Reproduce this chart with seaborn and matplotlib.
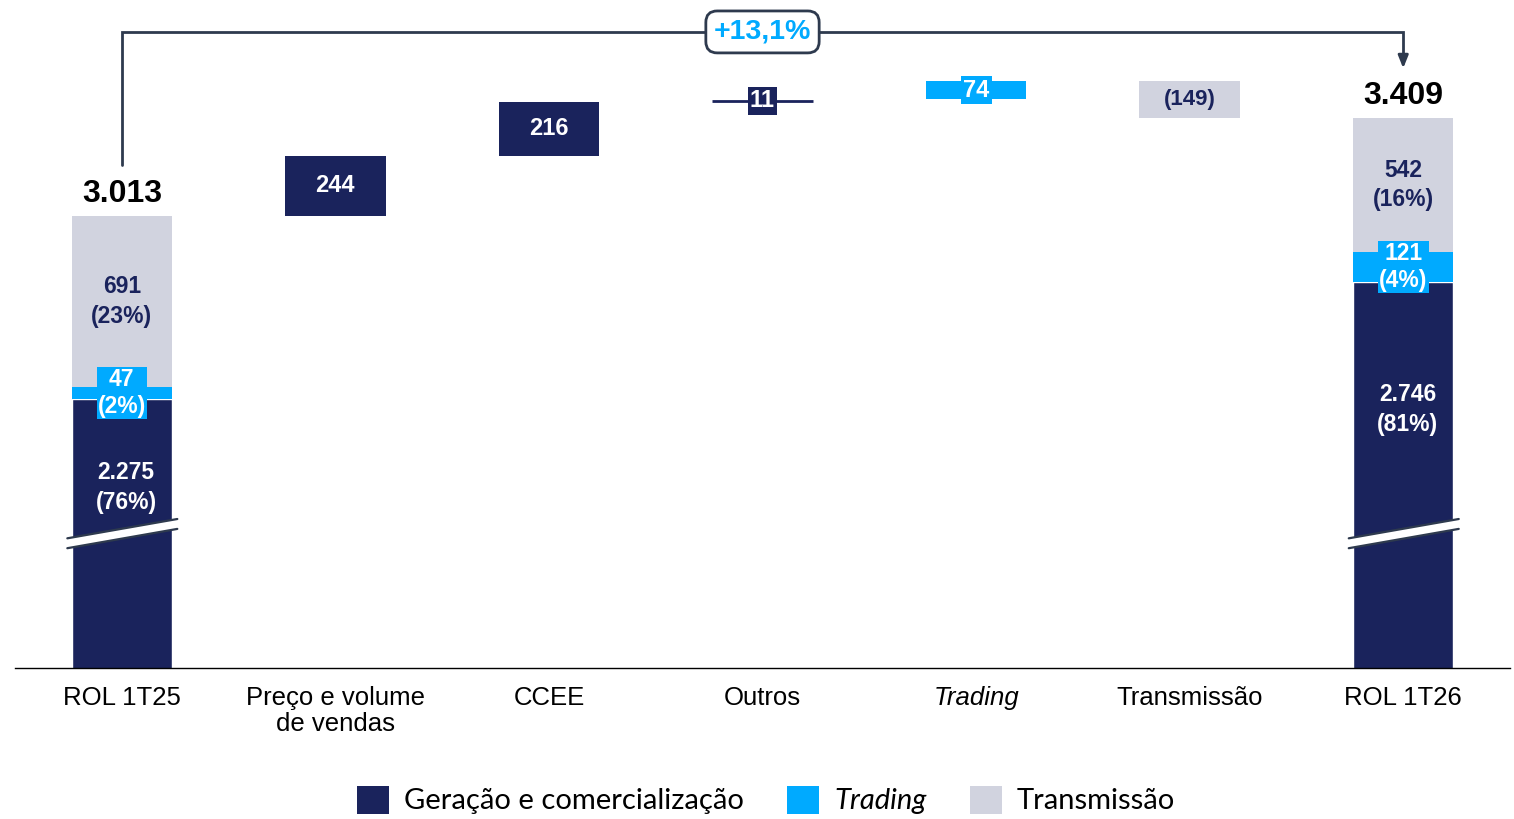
import numpy as np
import pandas as pd
import seaborn as sns
import matplotlib.pyplot as plt
from matplotlib.patches import Patch, Polygon

# data
categories = ['ROL 1T25', 'Preço e volume\nde vendas', 'CCEE', 'Outros', 'Trading', 'Transmissão', 'ROL 1T26']
start_parts = [2275, 47, 691]     # geração, trading, transmissão
end_parts = [2746, 121, 542]
start_pct = ['76%', '2%', '23%']
end_pct = ['81%', '4%', '16%']
deltas = [244, 216, 11, 74, -149]
delta_type = ['ger', 'ger', 'ger', 'trd', 'trn']
start_total = 3013
end_total = 3409
growth = '+13,1%'
legend_labels = ['Geração e comercialização', 'Trading', 'Transmissão']

NAVY = '#1A235C'
CYAN = '#00AAFF'
GRAY = '#D1D3DF'
LINE = '#2E3A4E'
colors = {'ger': NAVY, 'trd': CYAN, 'trn': GRAY}

sns.set_style('white')
plt.rcParams['font.family'] = ['Liberation Sans', 'DejaVu Sans']

fig = plt.figure(figsize=(15.14, 8.19), dpi=100)
ax = fig.add_axes([15 / 1514, 151 / 819, 1495 / 1514, 668 / 819])

ymin = 1187
ymax = 3886
W = 0.47

def fmt(v):
    return f'{v:,}'.replace(',', '.')

# base segments of the total bars (seaborn)
base = pd.DataFrame({'cat': [categories[0], categories[-1]],
                     'val': [start_parts[0], end_parts[0]]})
sns.barplot(data=base, x='cat', y='val', order=categories, color=NAVY,
            width=W, saturation=1, ax=ax)

# stacked upper segments of totals
for xi, parts in [(0, start_parts), (6, end_parts)]:
    b = parts[0]
    ax.bar(xi, parts[1], bottom=b, width=W, color=CYAN, linewidth=0)
    ax.bar(xi, parts[2], bottom=b + parts[1], width=W, color=GRAY, linewidth=0)

# floating steps
run = start_total
for i, (d, t) in enumerate(zip(deltas, delta_type)):
    xi = i + 1
    lo = run if d > 0 else run + d
    h = abs(d)
    c = colors[t]
    if h < 20:
        ax.plot([xi - W / 2, xi + W / 2], [run + d / 2] * 2, color=c, lw=2, solid_capstyle='butt')
    else:
        ax.bar(xi, h, bottom=lo, width=W, color=c, linewidth=0)
    mid = lo + h / 2
    if t == 'trn':
        ax.text(xi, mid, f'({abs(d)})', ha='center', va='center', fontsize=16,
                fontweight='bold', color=NAVY)
    elif h < 100:
        ax.text(xi, mid, f'{d}', ha='center', va='center', fontsize=17,
                fontweight='bold', color='white',
                bbox=dict(boxstyle='square,pad=0.1', fc=c, ec='none'))
    else:
        ax.text(xi, mid, f'{d}', ha='center', va='center', fontsize=17,
                fontweight='bold', color='white')
    run += d

# labels inside total bars
for xi, parts, pct, tot in [(0, start_parts, start_pct, start_total),
                            (6, end_parts, end_pct, end_total)]:
    g, t, r = parts
    ax.text(xi + 0.02, g - 0.33 * (g - ymin), f'{fmt(g)}\n({pct[0]})', ha='center',
            va='center', fontsize=16.5, fontweight='bold', color='white', linespacing=1.35)
    ax.text(xi, g + t / 2, f'{t}\n({pct[1]})', ha='center', va='center', fontsize=16.5,
            fontweight='bold', color='white', linespacing=1.2,
            bbox=dict(boxstyle='square,pad=0.05', fc=CYAN, ec='none'))
    ax.text(xi, g + t + r / 2, f'{r}\n({pct[2]})', ha='center', va='center', fontsize=16.5,
            fontweight='bold', color=NAVY, linespacing=1.35)
    ax.text(xi, tot + 28, fmt(tot), ha='center', va='bottom', fontsize=23,
            fontweight='bold', color='black')

    # axis break marks
    yc = 1730
    dy = 39
    hw = 20
    x0, x1 = xi - 0.255, xi + 0.26
    poly = Polygon([[x0, yc - dy - hw], [x1, yc + dy - hw], [x1, yc + dy + hw], [x0, yc - dy + hw]],
                   closed=True, fc='white', ec='none', zorder=4)
    ax.add_patch(poly)
    ax.plot([x0, x1], [yc - dy - hw, yc + dy - hw], color=LINE, lw=1.6, zorder=5)
    ax.plot([x0, x1], [yc - dy + hw, yc + dy + hw], color=LINE, lw=1.6, zorder=5)

# growth bracket
ytop = 3757
ax.plot([0, 0, 6, 6], [3219, ytop, ytop, 3660], color=LINE, lw=2, solid_joinstyle='miter', zorder=3)
ax.annotate('', xy=(6, 3610), xytext=(6, 3665),
            arrowprops=dict(arrowstyle='-|>,head_width=0.3,head_length=0.75', color=LINE, lw=2,
                            shrinkA=0, shrinkB=0))
ax.text(3, ytop, growth, ha='center', va='center', fontsize=20.5, fontweight='bold', color=CYAN,
        bbox=dict(boxstyle='round,pad=0.28,rounding_size=0.4', fc='white', ec=LINE, lw=2), zorder=6)

ax.set_xlim(-0.5, 6.5)
ax.set_ylim(ymin, ymax)
ax.set_xlabel('')
ax.set_ylabel('')
ax.set_yticks([])
ax.set_xticks(range(len(categories)))
ax.set_xticklabels(categories, fontsize=18.5, linespacing=1.1, color='black')
ax.get_xticklabels()[4].set_style('italic')
ax.tick_params(axis='x', length=0, pad=13)
for s in ['top', 'right', 'left']:
    ax.spines[s].set_visible(False)
ax.spines['bottom'].set_color('black')
ax.spines['bottom'].set_linewidth(1)

handles = [Patch(fc=NAVY, ec='none'), Patch(fc=CYAN, ec='none'), Patch(fc=GRAY, ec='none')]
leg = fig.legend(handles, legend_labels, loc='center', bbox_to_anchor=(766 / 1514, 1 - 800 / 819),
                 ncol=3, frameon=False, prop={'family': 'Lato', 'size': 21},
                 handlelength=1.1, handleheight=1.1, handletextpad=0.5, columnspacing=1.5)
leg.get_texts()[1].set_style('italic')
for tx in leg.get_texts():
    tx.set_color('black')

fig.savefig('out.png', dpi=100)
